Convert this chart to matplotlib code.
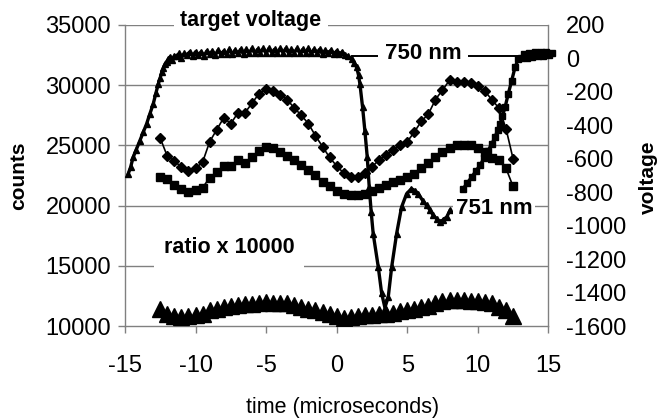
import matplotlib
matplotlib.use("Agg")
import matplotlib.pyplot as plt
from matplotlib.ticker import FixedLocator

plt.rcParams['font.family'] = ['Liberation Sans', 'DejaVu Sans']

# ---------------- data ----------------
# marker series (counts, left axis), sampled every 0.5 us from -12.5 to 12.5
t_marks = [-12.5 + 0.5 * i for i in range(51)]

diamond_counts = [25600, 24100, 23700, 23200, 22900, 23100, 23600, 25300, 26300, 27300,
                  26800, 27700, 27700, 28500, 29300, 29700, 29500, 29200, 28800, 28100,
                  27500, 26800, 25800, 24900, 24000, 23300, 22700, 22400, 22400, 22700,
                  23200, 23800, 24200, 24600, 25000, 25300, 26100, 27000, 27600, 28800,
                  29600, 30400, 30300, 30300, 30200, 29900, 29500, 28800, 28100, 26400,
                  23900]

square_counts = [22400, 22200, 21700, 21350, 21100, 21300, 21500, 22300, 22800, 23300,
                 23250, 23750, 23500, 24000, 24550, 24850, 24800, 24450, 24150, 23800,
                 23400, 22950, 22500, 22000, 21600, 21200, 20950, 20900, 20900, 21000,
                 21200, 21450, 21700, 21950, 22150, 22350, 22650, 23100, 23550, 24050,
                 24450, 24750, 25000, 25000, 25000, 24800, 24450, 23950, 23750, 23100,
                 21600]

ratio_counts = [11440, 11030, 10800, 10750, 10800, 10890, 11030, 11310, 11440, 11580,
                11630, 11720, 11800, 11860, 11910, 12000, 11950, 11920, 11920, 11750,
                11600, 11450, 11300, 11150, 11000, 10850, 10700, 10750, 10800, 10880,
                10950, 11000, 11030, 11120, 11230, 11300, 11420, 11560, 11700, 11950,
                12060, 12130, 12190, 12150, 12090, 12070, 12000, 11920, 11600, 11350,
                10850]

# target voltage, 750 nm trace (right axis)
volt_a_t = [-14.77, -14.6, -14.42, -14.2, -13.94, -13.7, -13.47, -13.25, -13.0, -12.8,
            -12.64, -12.5, -12.4, -12.27, -12.17, -12.05, -11.93, -11.8, -11.65, -11.5,
            -11.34, -11.15, -11.0, -10.8, -10.63,
            -10.4, -10.2, -10.0, -9.8, -9.6, -9.4, -9.2, -9.0, -8.8, -8.6,
            -8.4, -8.2, -8.0, -7.8, -7.6, -7.4, -7.2, -7.0, -6.8, -6.6,
            -6.4, -6.2, -6.0, -5.8, -5.6, -5.4, -5.2, -5.0, -4.8, -4.6,
            -4.4, -4.2, -4.0, -3.8, -3.6, -3.4, -3.2, -3.0, -2.8, -2.6,
            -2.4, -2.2, -2.0, -1.8, -1.6, -1.4, -1.2, -1.0, -0.8, -0.6,
            -0.4, -0.2, 0.0, 0.2, 0.4, 0.6,
            0.8, 1.06, 1.25, 1.42, 1.55, 1.65, 1.84, 2.0, 2.17, 2.31,
            2.45, 2.59, 2.95, 3.19, 3.42, 3.66, 3.9, 4.25, 4.6, 4.96,
            5.3, 5.55, 5.78, 6.1, 6.38, 6.6, 6.85, 7.1, 7.32, 7.55,
            7.8, 8.03]
volt_a_v = [-690, -650, -591, -545, -491, -440, -392, -335, -273, -205,
            -153, -115, -84, -55, -34, -20, -4, 10, -10, 15,
            15, 30, 5, 30, 20,
            40, 15, 40, 20, 40, 15, 45, 25, 45, 20,
            50, 25, 45, 25, 55, 25, 50, 30, 55, 25,
            55, 30, 60, 30, 55, 35, 60, 30, 60, 35,
            55, 30, 60, 35, 60, 30, 55, 35, 60, 30,
            55, 35, 60, 30, 55, 35, 55, 25, 50, 30,
            50, 25, 45, 25, 40, 20,
            15, -4, -25, -54, -100, -153, -293, -432, -591, -770,
            -920, -1048, -1247, -1405, -1490, -1425, -1247, -1048, -889, -809,
            -779, -790, -809, -850, -879, -905, -938, -960, -978, -965,
            -948, -909]

# target voltage, 751 nm trace (right axis)
volt_b_t = [8.97, 9.25, 9.57, 9.85, 10.16, 10.45, 10.74, 11.0, 11.22, 11.4,
            11.57, 11.75, 11.93, 12.16, 12.4, 12.64, 12.87, 13.05, 13.25, 13.47,
            13.65, 13.85, 14.05, 14.25, 14.45, 14.65, 14.85, 15.05, 15.25]
volt_b_v = [-779, -745, -710, -675, -640, -595, -551, -510, -472, -430,
            -392, -345, -293, -213, -134, -54, -4, 5, 25, 5,
            35, 10, 40, 15, 40, 15, 40, 20, 35]

left_ticks = [10000, 15000, 20000, 25000, 30000, 35000]
right_ticks = [-1600, -1400, -1200, -1000, -800, -600, -400, -200, 0, 200]
x_ticks = [-15, -10, -5, 0, 5, 10, 15]

# ---------------- figure ----------------
fig = plt.figure(figsize=(6.69, 4.2), dpi=100)
ax = fig.add_axes([0.1868, 0.2238, 0.6328, 0.7167])
ax2 = ax.twinx()

grid_c = '#808080'
ax.set_xlim(-15, 15)
ax.set_ylim(10000, 35000)
ax2.set_ylim(-1600, 200)

ax.set_xticks(x_ticks)
ax.set_xticklabels([str(v) for v in x_ticks])
ax.set_yticks(left_ticks)
ax.set_yticklabels([str(v) for v in left_ticks])
ax2.set_yticks(right_ticks)
ax2.set_yticklabels([str(v) for v in right_ticks])
ax2.yaxis.set_minor_locator(FixedLocator([-1200, -800, -400]))

for a in (ax, ax2):
    for s in a.spines.values():
        s.set_color(grid_c)
        s.set_linewidth(1)
    a.spines['top'].set_visible(False)
ax.spines['right'].set_visible(False)
ax2.spines['left'].set_visible(False)
ax2.spines['bottom'].set_visible(False)

ax.tick_params(axis='x', direction='out', length=5, width=1, color=grid_c,
               labelsize=17, pad=16)
ax.tick_params(axis='y', direction='out', length=5, width=1, color=grid_c,
               labelsize=17, pad=5)
ax2.tick_params(axis='y', which='major', length=0, labelsize=17, pad=13)
ax2.tick_params(axis='y', which='minor', direction='inout', length=12, width=1,
                color=grid_c)

for yv in left_ticks[1:]:
    ax.axhline(yv, color=grid_c, lw=1, zorder=0.5)

# marker series
ax.plot(t_marks, diamond_counts, color='black', lw=1.2, marker='D', ms=5.2,
        zorder=3)
ax.plot(t_marks, square_counts, color='black', lw=1.2, marker='s', ms=6,
        zorder=3)
ax.plot(t_marks, ratio_counts, color='black', lw=1.2, marker='^', ms=11,
        zorder=3)

# voltage traces
ax2.plot([1.1, 13.5], [15, 15], color='black', lw=1.4, zorder=2)
ax2.plot(volt_a_t, volt_a_v, color='black', lw=2.4, marker='^', ms=4.8,
         zorder=3, clip_on=False)
ax2.plot(volt_b_t, volt_b_v, color='black', lw=2.4, marker='s', ms=4.8,
         zorder=3, clip_on=False)

# annotations
bb = dict(boxstyle='square,pad=0.3', fc='white', ec='none')
ax.text(-6.07, 35360, 'target voltage', fontsize=15.5, fontweight='bold',
        ha='center', va='center', bbox=bb, zorder=4, clip_on=False)
ax.text(-7.63, 16525, 'ratio x 10000', fontsize=15.5, fontweight='bold',
        ha='center', va='center', bbox=dict(boxstyle='square,pad=0.45', fc='white', ec='none'),
        zorder=4)
ax2.text(6.15, 30, '750 nm', fontsize=16, fontweight='bold',
         ha='center', va='center', bbox=bb, zorder=4)
ax2.text(11.15, -900, '751 nm', fontsize=16, fontweight='bold',
         ha='center', va='center', bbox=dict(boxstyle='square,pad=0.1', fc='white', ec='none'),
         zorder=4)

fig.text(0.512, 0.0286, 'time (microseconds)', fontsize=15.5,
         ha='center', va='center')
fig.text(0.0284, 0.581, 'counts', fontsize=15, fontweight='bold',
         rotation=90, ha='center', va='center')
fig.text(0.9686, 0.579, 'voltage', fontsize=15, fontweight='bold',
         rotation=90, ha='center', va='center')

fig.savefig('out.png', dpi=100)
